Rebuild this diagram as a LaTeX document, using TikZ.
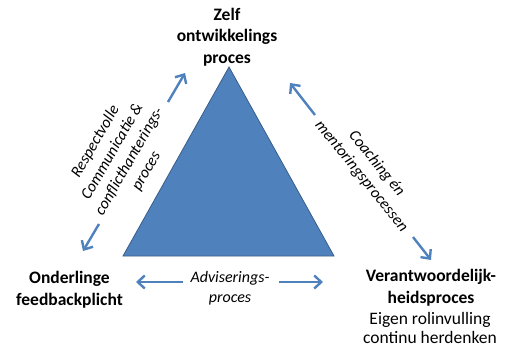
\documentclass[tikz,border=0pt]{standalone}
\usepackage{fontspec}
\setmainfont{Carlito}
\usetikzlibrary{arrows.meta}
\definecolor{triblue}{HTML}{4F81BD}
\definecolor{triedge}{HTML}{385D8A}
\begin{document}
\begin{tikzpicture}[x=1pt,y=-1pt,
  lbl/.style={font=\fontsize{17.5}{21.5}\selectfont\bfseries, align=center, inner sep=0pt},
  sublbl/.style={font=\fontsize{17.5}{19}\selectfont, align=center, inner sep=0pt},
  ital/.style={font=\fontsize{16}{19.6}\selectfont\itshape, align=center, inner sep=0pt},
  dbl/.style={draw=triblue, line width=2.4pt, -{Straight Barb[length=7pt,width=13pt]}}]
  \useasboundingbox (0,0) rectangle (508,349);

  % central triangle
  \coordinate (apex) at (229,67);
  \coordinate (bl) at (123,256);
  \coordinate (br) at (334,256);
  \fill[triblue, draw=triedge, line width=0.8pt] (apex) -- (br) -- (bl) -- cycle;

  % corner labels (anchored at the baseline of their last line)
  \node[lbl, anchor=base] (top) at (227,63) {Zelf\\ontwikkelings\\proces};
  \node[lbl, anchor=base] (left) at (69.5,305) {Onderlinge\\feedbackplicht};
  \node[lbl, anchor=base] (right) at (431,303) {Verantwoordelijk-\\heidsproces};
  \node[sublbl, anchor=base] (rsub) at (430,343) {Eigen rolinvulling\\continu herdenken};

  % process labels along the sides
  \node[ital, rotate=60] (lproc) at (121,156.5) {Respectvolle\\Communicatie \&\\conflicthanterings-\\proces};
  \node[ital, rotate=-51] (rproc) at (369,170) {Coaching én\\mentoringsprocessen};
  \node[ital, anchor=base] (bproc) at (230,302) {Adviserings-\\proces};

  % arrow end points
  \coordinate (l1s) at (168,102); \coordinate (l1e) at (185,73);
  \coordinate (l2s) at (99,224);  \coordinate (l2e) at (83,251);
  \coordinate (r1s) at (315,115); \coordinate (r1e) at (290,83);
  \coordinate (r2s) at (413,237); \coordinate (r2e) at (431,260);
  \coordinate (b1s) at (183,282); \coordinate (b1e) at (136,282);
  \coordinate (b2s) at (279,282); \coordinate (b2e) at (323,282);

  \draw[dbl] (l1s) -- (l1e);
  \draw[dbl] (l2s) -- (l2e);
  \draw[dbl] (r1s) -- (r1e);
  \draw[dbl] (r2s) -- (r2e);
  \draw[dbl] (b1s) -- (b1e);
  \draw[dbl] (b2s) -- (b2e);
\end{tikzpicture}
\end{document}
